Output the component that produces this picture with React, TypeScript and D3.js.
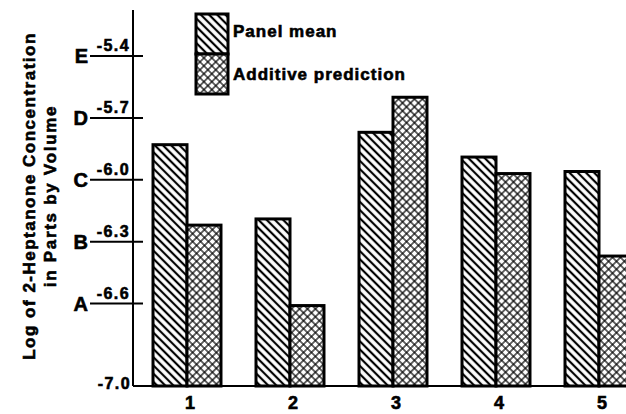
import React from "react";
import * as d3 from "d3";

const groups = ["1", "2", "3", "4", "5"];
const panelMean = [-5.83, -6.19, -5.77, -5.89, -5.96];
const additivePrediction = [-6.22, -6.61, -5.6, -5.97, -6.37];
const tickValues = [-5.4, -5.7, -6.0, -6.3, -6.6];
const tickLetters = ["E", "D", "C", "B", "A"];
const seriesNames = ["Panel mean", "Additive prediction"];

const width = 626;
const height = 414;
const axisX = 133;
const baseY = 386;

const font = "'Liberation Sans', Arial, Helvetica, sans-serif";
const fmt = (v: number) => v.toFixed(1);

export default function App() {
  const y = d3.scaleLinear().domain([-7.0, -5.4]).range([baseY, 56]);

  const x = d3
    .scaleBand<string>()
    .domain(groups)
    .range([135.5, 650.5])
    .paddingInner(0.34)
    .paddingOuter(0.17);

  const xSub = d3
    .scaleBand<string>()
    .domain(seriesNames)
    .range([0, x.bandwidth()]);

  const fills = ["url(#diag)", "url(#cross)"];
  const series = [panelMean, additivePrediction];

  return (
    <svg
      width={width}
      height={height}
      style={{ position: "fixed", left: 0, top: 0, background: "#fff" }}
      fontFamily={font}
      fontWeight="bold"
    >
      <defs>
        <pattern
          id="diag"
          patternUnits="userSpaceOnUse"
          width={5.8}
          height={5.8}
          patternTransform="rotate(45)"
        >
          <rect width={5.8} height={5.8} fill="#fff" />
          <line x1={0} y1={2.9} x2={5.8} y2={2.9} stroke="#000" strokeWidth={2.2} />
        </pattern>
        <pattern
          id="cross"
          patternUnits="userSpaceOnUse"
          width={5.6}
          height={5.6}
          patternTransform="rotate(45)"
        >
          <rect width={5.6} height={5.6} fill="#fff" />
          <line x1={0} y1={2.8} x2={5.6} y2={2.8} stroke="#000" strokeWidth={1.2} />
          <line x1={2.8} y1={0} x2={2.8} y2={5.6} stroke="#000" strokeWidth={1.2} />
        </pattern>
      </defs>

      {/* bars */}
      {groups.map((g, i) => (
        <g key={g} transform={`translate(${x(g)},0)`}>
          {series.map((vals, s) => (
            <rect
              key={s}
              x={xSub(seriesNames[s])}
              y={y(vals[i])}
              width={xSub.bandwidth()}
              height={baseY - y(vals[i])}
              fill={fills[s]}
              stroke="#000"
              strokeWidth={3}
            />
          ))}
        </g>
      ))}

      {/* axes */}
      <line x1={axisX} y1={10} x2={axisX} y2={baseY} stroke="#000" strokeWidth={2} />
      <line x1={axisX} y1={baseY} x2={width} y2={baseY} stroke="#000" strokeWidth={2} />

      <g stroke="#000" strokeWidth={0.6}>
        {tickValues.map((v, i) => (
          <g key={v}>
            <line
              x1={axisX - 43}
              x2={axisX + 10}
              y1={y(v)}
              y2={y(v)}
              stroke="#000"
              strokeWidth={2}
            />
            <text
              x={axisX - 3}
              y={y(v) - 5}
              textAnchor="end"
              fontSize={16}
              letterSpacing={1.4}
            >
              {fmt(v)}
            </text>
            <text x={axisX - 45} y={y(v) + 7} textAnchor="end" fontSize={20}>
              {tickLetters[i]}
            </text>
          </g>
        ))}
        <text x={axisX - 2} y={baseY + 3} textAnchor="end" fontSize={16} letterSpacing={1.4}>
          {fmt(-7.0)}
        </text>

        {/* category labels */}
        {groups.map((g) => (
          <text
            key={g}
            x={(x(g) ?? 0) + x.bandwidth() / 2 + 3}
            y={409}
            textAnchor="middle"
            fontSize={18}
          >
            {g}
          </text>
        ))}

        {/* y title */}
        <g transform="translate(0,196) rotate(-90)">
          <text x={0} y={35} textAnchor="middle" fontSize={17} letterSpacing={1.5}>
            Log of 2-Heptanone Concentration
          </text>
          <text x={0} y={56} textAnchor="middle" fontSize={17} letterSpacing={1.7}>
            in Parts by Volume
          </text>
        </g>

        {/* legend */}
        {seriesNames.map((name, i) => (
          <g key={name} transform={`translate(196,${14 + i * 40})`}>
            <rect width={32} height={40} fill={fills[i]} stroke="#000" strokeWidth={3} />
            <text x={37} y={i === 0 ? 23 : 26} fontSize={17} letterSpacing={1}>
              {name}
            </text>
          </g>
        ))}
      </g>
    </svg>
  );
}
